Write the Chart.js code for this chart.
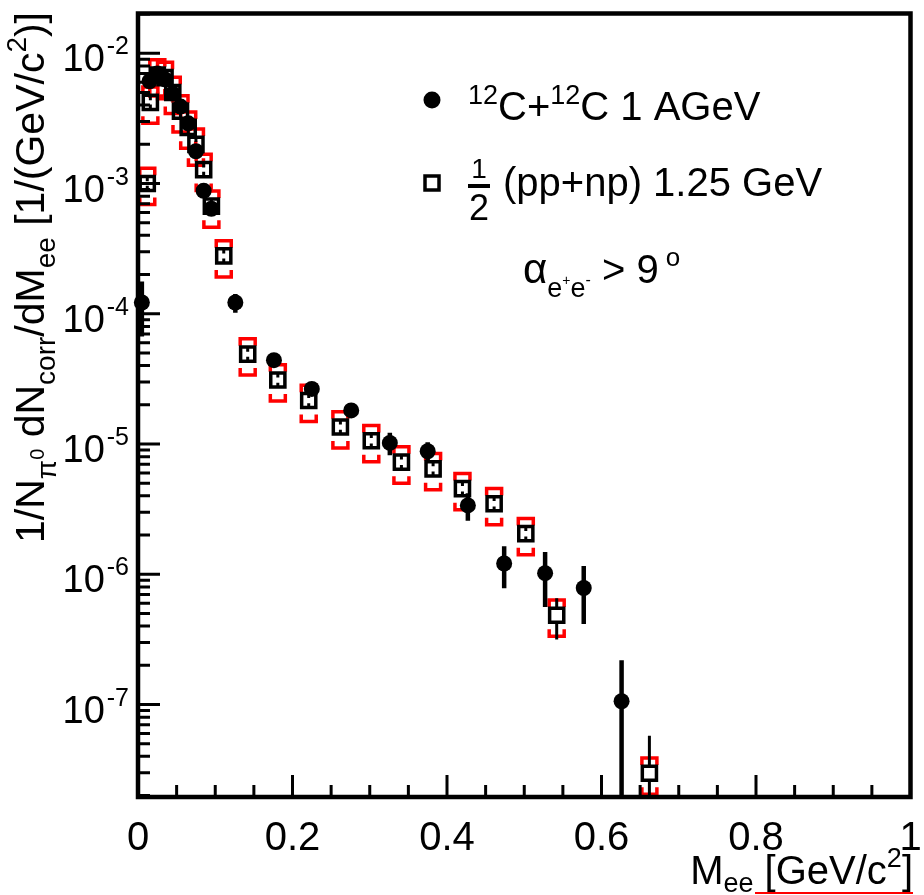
<!DOCTYPE html>
<html><head><meta charset="utf-8">
<script src="https://cdn.jsdelivr.net/npm/chart.js@4"></script>
<style>html,body{margin:0;padding:0;background:#fff}canvas{display:block}</style>
</head><body>
<canvas id="c" width="924" height="895"></canvas>
<script>
// ---- data: 12C+12C 1 AGeV (filled circles) ----
const ccMass  = [0.005, 0.015, 0.025, 0.035, 0.045, 0.055, 0.065, 0.075, 0.085, 0.095, 0.126, 0.176, 0.225, 0.276, 0.326, 0.375, 0.427, 0.474, 0.527, 0.577, 0.626];
const ccYield = [1.22e-4, 6.1e-3, 7.0e-3, 6.3e-3, 4.9e-3, 3.9e-3, 2.9e-3, 1.77e-3, 8.8e-4, 6.4e-4, 1.22e-4, 4.4e-5, 2.65e-5, 1.81e-5, 1.02e-5, 8.8e-6, 3.38e-6, 1.21e-6, 1.02e-6, 7.85e-7, 1.06e-7];
const ccErr   = [5.5e-5, 2e-4, 2e-4, 2e-4, 1.5e-4, 1.2e-4, 1e-4, 8e-5, 5e-5, 4e-5, 2e-5, 4e-6, 2.5e-6, 1.5e-6, 2e-6, 1.5e-6, 8e-7, 4.3e-7, 4.6e-7, 3.7e-7, 1.13e-7];
// ---- data: 1/2 (pp+np) 1.25 GeV (open squares, red systematic brackets) ----
const ppMass  = [0.012, 0.016, 0.025, 0.035, 0.045, 0.055, 0.065, 0.075, 0.085, 0.095, 0.111, 0.142, 0.181, 0.221, 0.262, 0.302, 0.341, 0.382, 0.420, 0.461, 0.502, 0.542, 0.662];
const ppYield = [1.0e-3, 4.2e-3, 6.8e-3, 6.5e-3, 5.0e-3, 3.6e-3, 2.7e-3, 2.0e-3, 1.28e-3, 6.7e-4, 2.78e-4, 4.9e-5, 3.1e-5, 2.16e-5, 1.35e-5, 1.06e-5, 7.26e-6, 6.45e-6, 4.54e-6, 3.48e-6, 2.05e-6, 4.85e-7, 2.97e-8];
const ppStat  = [4e-5, 1.5e-4, 2.5e-4, 2.5e-4, 2e-4, 1.5e-4, 1.1e-4, 8e-5, 5e-5, 2.8e-5, 1.2e-5, 2.2e-6, 1.4e-6, 1e-6, 6.5e-7, 5e-7, 3.5e-7, 3e-7, 2.2e-7, 1.7e-7, 1e-7, 1.7e-7, 2.8e-8];
const ppSysRel = [0.31, 0.31, 0.31, 0.31, 0.31, 0.31, 0.31, 0.31, 0.31, 0.31, 0.31, 0.31, 0.31, 0.31, 0.31, 0.31, 0.31, 0.31, 0.31, 0.31, 0.31, 0.31, 0.31];
// ---- axes ----
const xMajorTicks = [0, 0.2, 0.4, 0.6, 0.8, 1];
const xTickLabels = ['0', '0.2', '0.4', '0.6', '0.8', '1'];
const xMinorStep = 0.05;
const yDecades = [-2, -3, -4, -5, -6, -7];
const yMin = 1.95e-8, yMax = 2.02e-2;
const xMin = 0, xMax = 1;

const FONT = '"Liberation Sans", Arial, Helvetica, sans-serif';

function runsWidth(ctx, runs) {
  let w = 0;
  for (const r of runs) { ctx.font = r.s + 'px ' + FONT; w += ctx.measureText(r.t).width + (r.gap || 0); }
  return w;
}
function drawRuns(ctx, runs, x, y, align) {
  const w = runsWidth(ctx, runs);
  let cx = align === 'right' ? x - w : align === 'center' ? x - w / 2 : x;
  ctx.textBaseline = 'alphabetic';
  ctx.textAlign = 'left';
  for (const r of runs) {
    ctx.font = r.s + 'px ' + FONT;
    ctx.fillStyle = r.c || '#000';
    ctx.fillText(r.t, cx, y + (r.dy || 0));
    cx += ctx.measureText(r.t).width + (r.gap || 0);
  }
  return w;
}

const rootPlugin = {
  id: 'rootStyle',
  beforeDatasetsDraw(chart) {
    const {ctx, chartArea: a, scales: {x, y}} = chart;
    ctx.save();
    ctx.beginPath(); ctx.rect(a.left, a.top, a.right - a.left, a.bottom - a.top); ctx.clip();
    // red systematic brackets
    ctx.strokeStyle = '#ff0000'; ctx.lineWidth = 3.5; ctx.lineJoin = 'miter';
    const hw = 7.5, leg = 7;
    ppMass.forEach((m, i) => {
      const px = x.getPixelForValue(m);
      const yHi = y.getPixelForValue(ppYield[i] * (1 + ppSysRel[i]));
      const yLo = y.getPixelForValue(ppYield[i] * (1 - ppSysRel[i]));
      ctx.beginPath();
      ctx.moveTo(px - hw, yHi + leg); ctx.lineTo(px - hw, yHi); ctx.lineTo(px + hw, yHi); ctx.lineTo(px + hw, yHi + leg);
      ctx.moveTo(px - hw, yLo - leg); ctx.lineTo(px - hw, yLo); ctx.lineTo(px + hw, yLo); ctx.lineTo(px + hw, yLo - leg);
      ctx.stroke();
    });
    // statistical error bars of the squares (stubs from the marker edge)
    ctx.strokeStyle = '#000'; ctx.lineWidth = 3;
    const half = 7;
    ppMass.forEach((m, i) => {
      const px = x.getPixelForValue(m);
      const py = y.getPixelForValue(ppYield[i]);
      const lo = Math.max(ppYield[i] - ppStat[i], yMin * 0.2);
      const yTop = y.getPixelForValue(ppYield[i] + ppStat[i]);
      const yBot = y.getPixelForValue(lo);
      ctx.beginPath();
      ctx.moveTo(px, py - half); ctx.lineTo(px, Math.min(yTop, py - 2));
      ctx.moveTo(px, py + half); ctx.lineTo(px, Math.max(yBot, py + 2));
      ctx.stroke();
    });
    // C+C error bars
    ctx.lineWidth = 4.5;
    ccMass.forEach((m, i) => {
      const px = x.getPixelForValue(m);
      const lo = Math.max(ccYield[i] - ccErr[i], yMin * 0.2);
      ctx.beginPath();
      ctx.moveTo(px, y.getPixelForValue(ccYield[i] + ccErr[i]));
      ctx.lineTo(px, y.getPixelForValue(lo));
      ctx.stroke();
    });
    ctx.restore();
  },
  afterDraw(chart) {
    const {ctx, chartArea: a, scales: {x, y}} = chart;
    ctx.save();
    ctx.strokeStyle = '#000';
    // ticks (inward, left and bottom only)
    ctx.lineWidth = 3;
    ctx.beginPath();
    for (let d = -8; d <= -2; d++) {
      for (let k = 1; k <= 9; k++) {
        const v = k * Math.pow(10, d);
        if (v < yMin || v > yMax) continue;
        const py = y.getPixelForValue(v);
        const len = k === 1 ? 22 : 12;
        ctx.moveTo(a.left, py); ctx.lineTo(a.left + len, py);
      }
    }
    for (let v = xMin; v <= xMax + 1e-9; v += xMinorStep) {
      const px = x.getPixelForValue(v);
      const isMajor = xMajorTicks.some(t => Math.abs(t - v) < 1e-6);
      const len = isMajor ? 22 : 12;
      ctx.moveTo(px, a.bottom); ctx.lineTo(px, a.bottom - len);
    }
    ctx.stroke();
    // frame
    ctx.lineWidth = 4.5;
    ctx.strokeRect(a.left, a.top, a.right - a.left, a.bottom - a.top);

    // y tick labels
    yDecades.forEach(d => {
      const py = y.getPixelForValue(Math.pow(10, d));
      drawRuns(ctx, [{t: '10', s: 38, gap: 2}, {t: '-' + (-d), s: 25, dy: -17}], 129, py + 18, 'right');
    });
    // x tick labels
    xMajorTicks.forEach((v, i) => {
      const px = x.getPixelForValue(v);
      drawRuns(ctx, [{t: xTickLabels[i], s: 40}], px, 850, 'center');
    });
    // x title
    const xt = [{t: 'M', s: 40}, {t: 'ee', s: 27, dy: 8}, {t: ' [GeV/c', s: 40}, {t: '2', s: 27, dy: -17}, {t: ']', s: 40}];
    drawRuns(ctx, xt, 913, 884, 'right');
    ctx.strokeStyle = '#ff0000'; ctx.lineWidth = 2;
    ctx.beginPath(); ctx.moveTo(755, 893); ctx.lineTo(913, 893); ctx.stroke();

    // y title (rotated)
    ctx.save();
    ctx.translate(44, 12);
    ctx.rotate(-Math.PI / 2);
    const yt = [{t: '1/N', s: 41}, {t: 'π', s: 28, dy: 12}, {t: '0', s: 20, dy: 0}, {t: ' dN', s: 41}, {t: 'corr', s: 28, dy: 11},
                {t: '/dM', s: 41}, {t: 'ee', s: 28, dy: 11}, {t: ' [1/(GeV/c', s: 41}, {t: '2', s: 28, dy: -18}, {t: ')]', s: 41}];
    drawRuns(ctx, yt, 0, 0, 'right');
    ctx.restore();

    // legend
    ctx.fillStyle = '#000';
    ctx.beginPath(); ctx.arc(432, 100, 8.5, 0, Math.PI * 2); ctx.fill();
    drawRuns(ctx, [{t: '12', s: 27, dy: -16}, {t: 'C+', s: 40}, {t: '12', s: 27, dy: -16}, {t: 'C 1 AGeV', s: 40}], 468, 120, 'left');
    ctx.strokeStyle = '#000'; ctx.lineWidth = 3.5;
    ctx.strokeRect(425, 176, 14, 14);
    drawRuns(ctx, [{t: '1', s: 28}], 479, 178, 'center');
    ctx.fillRect(468, 184, 22, 4);
    drawRuns(ctx, [{t: '2', s: 36}], 479, 220, 'center');
    drawRuns(ctx, [{t: '(pp+np) 1.25 GeV', s: 40}], 503, 196, 'left');
    drawRuns(ctx, [{t: 'α', s: 42}, {t: 'e', s: 27, dy: 14}, {t: '+', s: 14, dy: 2}, {t: 'e', s: 27, dy: 14}, {t: '-', s: 16, dy: 2},
                   {t: ' > 9', s: 40}, {t: ' o', s: 26, dy: -17}], 523, 283, 'left');
    ctx.restore();
  }
};

new Chart(document.getElementById('c').getContext('2d'), {
  type: 'scatter',
  data: {
    datasets: [
      { label: '12C+12C 1 AGeV', data: ccMass.map((m, i) => ({x: m, y: ccYield[i]})), clip: false,
        pointStyle: 'circle', pointRadius: 8, backgroundColor: '#000', borderColor: '#000', borderWidth: 0, showLine: false },
      { label: '1/2 (pp+np) 1.25 GeV', data: ppMass.map((m, i) => ({x: m, y: ppYield[i]})),
        pointStyle: 'rect', pointRadius: 10, backgroundColor: 'rgba(255,255,255,0)', borderColor: '#000', borderWidth: 3.5, showLine: false }
    ]
  },
  options: {
    responsive: false, animation: false, devicePixelRatio: 1, events: [],
    layout: {padding: {left: 138, right: 8, top: 12, bottom: 98}},
    plugins: {legend: {display: false}, tooltip: {enabled: false}},
    scales: {
      x: {type: 'linear', min: xMin, max: xMax, display: false},
      y: {type: 'logarithmic', min: yMin, max: yMax, display: false}
    }
  },
  plugins: [rootPlugin]
});
</script>
</body></html>
